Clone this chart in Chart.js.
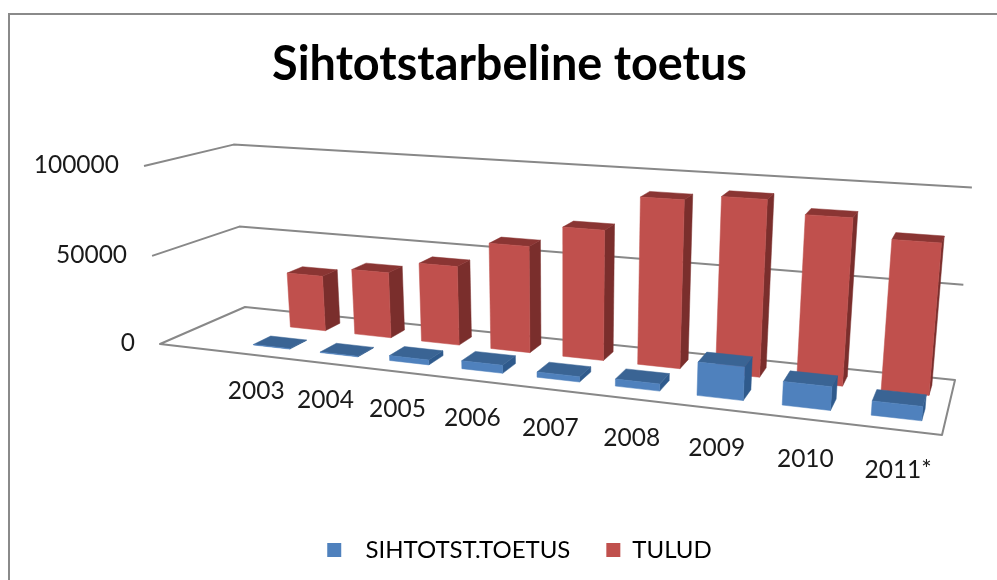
<!DOCTYPE html>
<html><head><meta charset="utf-8">
<style>html,body{margin:0;padding:0;background:#fff}#w{width:997px;height:580px;position:relative}canvas{filter:blur(0.6px)}</style>
<script src="https://cdn.jsdelivr.net/npm/chart.js@4/dist/chart.umd.min.js"></script>
</head><body><div id="w"><canvas id="c" width="997" height="580"></canvas></div>
<script>
const categories = ['2003','2004','2005','2006','2007','2008','2009','2010','2011*'];
const sihtotstToetus = [300,300,2700,4300,2800,3700,17000,11800,7000];
const tulud = [32000,37500,44500,59000,71000,90000,93000,86500,77000];
const yTicks = [0,50000,100000];

// View geometry of the 3D box: floor corners on screen, vanishing point of the verticals
const FLOOR = [[160,344],[942,435],[955,380],[245,307]];
const VP = [564,4838], S0 = .0396;
const U0 = .096, U1 = .998;
const DEPTH = [[.19,.40],[.65,.85]];
const FACES = [
  {front:'#4F81BD',side:'#2F5A8C',top:'#3A6494'},
  {front:'#C0504D',side:'#7A2E2C',top:'#8A3533'}
];
const GRID = '#888888', TXT = '#1a1a1a', FONT = 'Lato, Carlito, sans-serif';

function quad(q){
  const [p0,p1,p2,p3]=q;
  const sx=p0[0]-p1[0]+p2[0]-p3[0], sy=p0[1]-p1[1]+p2[1]-p3[1];
  const dx1=p1[0]-p2[0], dx2=p3[0]-p2[0], dy1=p1[1]-p2[1], dy2=p3[1]-p2[1];
  const den=dx1*dy2-dx2*dy1;
  const g=(sx*dy2-dx2*sy)/den, h=(dx1*sy-sx*dy1)/den;
  const a=p1[0]-p0[0]+g*p1[0], b=p3[0]-p0[0]+h*p3[0], c=p0[0];
  const d=p1[1]-p0[1]+g*p1[1], e=p3[1]-p0[1]+h*p3[1], f=p0[1];
  return (u,v)=>{const w=g*u+h*v+1;return [(a*u+b*v+c)/w,(d*u+e*v+f)/w,w];};
}
const HF=quad(FLOOR);
function proj(u,d,t){
  const k=t*(.98+.02*t), A=HF(u,d), s=S0/A[2]*k;
  return [A[0]+(A[0]-VP[0])*s, A[1]+(A[1]-VP[1])*s];
}
function poly(ctx,pts,fill){
  ctx.beginPath();pts.forEach((p,i)=>i?ctx.lineTo(p[0],p[1]):ctx.moveTo(p[0],p[1]));ctx.closePath();
  ctx.fillStyle=fill;ctx.fill();ctx.strokeStyle=fill;ctx.lineWidth=.5;ctx.stroke();
}
function seg(ctx,pts){
  ctx.beginPath();pts.forEach((p,i)=>i?ctx.lineTo(p[0],p[1]):ctx.moveTo(p[0],p[1]));ctx.stroke();
}
function uOf(chart,px){const a=chart.chartArea;return U0+(px-a.left)/(a.right-a.left)*(U1-U0);}
function tOf(chart,py){const a=chart.chartArea;return (a.bottom-py)/(a.bottom-a.top);}

const box3d={
  id:'box3d',
  afterLayout(chart){chart.legend.left+=10;chart.legend.right+=10;},
  beforeDraw(chart){
    const c=chart.ctx;c.save();c.fillStyle='#fff';c.fillRect(0,0,997,580);
    c.strokeStyle='#8a8a8a';c.lineWidth=2;c.strokeRect(9,14,1020,600);c.restore();
  },
  beforeDatasetsDraw(chart){
    const c=chart.ctx,y=chart.scales.y;c.save();c.strokeStyle=GRID;c.lineWidth=2;c.lineJoin='round';
    y.ticks.forEach(tk=>{
      const t=tOf(chart,y.getPixelForValue(tk.value));
      if(tk.value===0) return;
      seg(c,[proj(0,0,t),proj(0,1,t),proj(1,1,t)]);
    });
    c.beginPath();[proj(0,0,0),proj(0,1,0),proj(1,1,0),proj(1,0,0)].forEach((p,i)=>i?c.lineTo(p[0],p[1]):c.moveTo(p[0],p[1]));c.closePath();c.stroke();
    c.restore();
  },
  beforeDatasetDraw(chart,args){
    const c=chart.ctx,i=args.index,[d0,d1]=DEPTH[i],F=FACES[i];
    c.save();
    args.meta.data.forEach(el=>{
      const u0=uOf(chart,el.x-el.width/2),u1=uOf(chart,el.x+el.width/2),t=tOf(chart,el.y);
      poly(c,[proj(u1,d0,0),proj(u1,d1,0),proj(u1,d1,t),proj(u1,d0,t)],F.side);
      poly(c,[proj(u0,d0,t),proj(u1,d0,t),proj(u1,d1,t),proj(u0,d1,t)],F.top);
      poly(c,[proj(u0,d0,0),proj(u1,d0,0),proj(u1,d0,t),proj(u0,d0,t)],F.front);
    });
    c.restore();
    return false;
  },
  afterDatasetsDraw(chart){
    const c=chart.ctx,x=chart.scales.x,y=chart.scales.y;
    c.save();c.fillStyle=TXT;c.font='24.5px '+FONT;c.textBaseline='middle';
    c.textAlign='right';
    y.ticks.forEach(tk=>{
      const p=proj(0,0,tOf(chart,y.getPixelForValue(tk.value)));
      c.fillText(String(tk.value),p[0]-25,p[1]-0.5);
    });
    c.textAlign='center';
    categories.forEach((lab,i)=>{
      const u=uOf(chart,x.getPixelForValue(i)),p=proj(u,0,0);
      c.fillText(lab,p[0]+6*u,p[1]+35.5+6*u);
    });
    c.restore();
  }
};

new Chart(document.getElementById('c'),{
  type:'bar',
  data:{labels:categories,datasets:[
    {label:'SIHTOTST.TOETUS',data:sihtotstToetus,backgroundColor:FACES[0].front},
    {label:'TULUD',data:tulud,backgroundColor:FACES[1].front}
  ]},
  options:{
    responsive:false,animation:false,
    datasets:{bar:{grouped:false,categoryPercentage:.548,barPercentage:1}},
    layout:{padding:{left:22,top:37,bottom:8}},
    scales:{
      x:{grid:{display:false},border:{display:false},ticks:{display:false}},
      y:{min:0,max:100000,afterBuildTicks(s){s.ticks=yTicks.map(v=>({value:v}));},grid:{display:false},border:{display:false},ticks:{display:false}}
    },
    plugins:{
      tooltip:{enabled:false},
      title:{display:true,text:'Sihtotstarbeline toetus',color:'#000',font:{family:FONT,size:46.8,weight:'bold'},padding:{top:0,bottom:10}},
      legend:{position:'bottom',labels:{color:TXT,boxWidth:14,boxHeight:14,padding:36,font:{family:FONT,size:24},
        generateLabels(ch){return ch.data.datasets.map((ds,i)=>({text:(i===0?'  ':'')+ds.label,fillStyle:ds.backgroundColor,strokeStyle:ds.backgroundColor,lineWidth:0,datasetIndex:i,hidden:false}));}}}
    }
  },
  plugins:[box3d]
});
</script></body></html>
